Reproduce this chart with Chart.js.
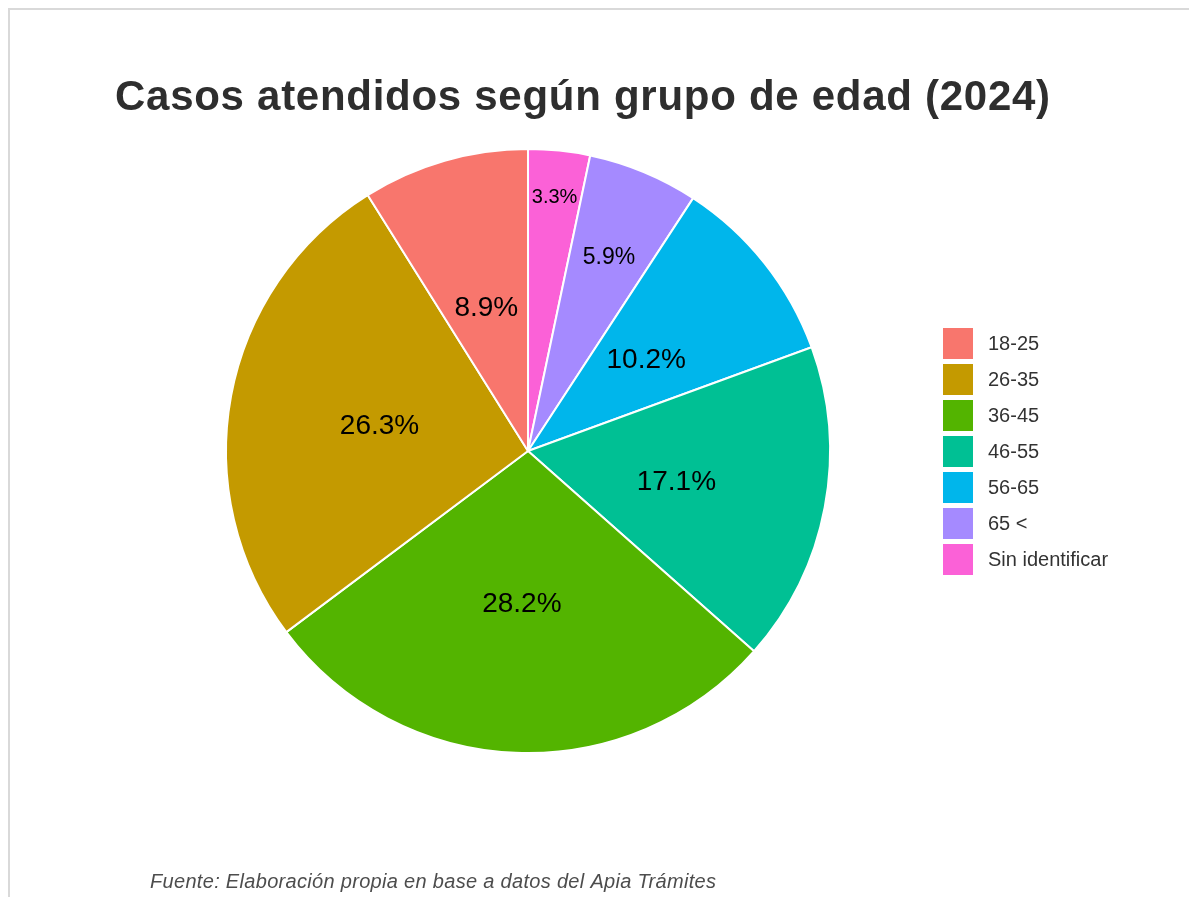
<!DOCTYPE html>
<html><head><meta charset="utf-8">
<script src="https://cdn.jsdelivr.net/npm/chart.js@4.4.1/dist/chart.umd.min.js"></script>
<style>
html,body{margin:0;padding:0;background:#fff;}
#wrap{position:relative;width:1189px;height:897px;overflow:hidden;background:#fff;}
#frame{position:absolute;left:8px;top:8px;width:1300px;height:1000px;border:2px solid #d9d9d9;box-sizing:border-box;}
canvas{position:absolute;left:0;top:0;}
</style></head>
<body><div id="wrap"><div id="frame"></div><canvas id="c" width="1189" height="897"></canvas></div>
<script>
const categories = ['18-25', '26-35', '36-45', '46-55', '56-65', '65 <', 'Sin identificar'];
const percentages = [8.9, 26.3, 28.2, 17.1, 10.2, 5.9, 3.3];
const colors = ['#F8766D', '#C49A00', '#53B400', '#00C094', '#00B6EB', '#A58AFF', '#FB61D7'];
const titleText = 'Casos atendidos según grupo de edad (2024)';
const captionText = 'Fuente: Elaboración propia en base a datos del Apia Trámites';
// label styling (radius fraction and font size per category)
const labelRadius = [0.5, 0.5, 0.5, 0.5, 0.5, 0.7, 0.85];
const labelSize = [28, 28, 28, 28, 28, 23, 20];

const FONT = '"Liberation Sans", Arial, Helvetica, sans-serif';
// ggplot draws counter-clockwise; Chart.js draws clockwise -> reverse order for the library
const order = categories.map((_, i) => categories.length - 1 - i);

function fitText(ctx, text, x, y, targetWidth) {
  ctx.letterSpacing = '0px';
  const w = ctx.measureText(text).width;
  const ls = (targetWidth - w) / (text.length - 1);
  ctx.letterSpacing = ls.toFixed(2) + 'px';
  ctx.textAlign = 'left';
  ctx.fillText(text, x, y);
  ctx.letterSpacing = '0px';
}

const textPlugin = {
  id: 'textPlugin',
  afterDatasetsDraw(chart) {
    const ctx = chart.ctx;
    const meta = chart.getDatasetMeta(0);
    ctx.save();
    meta.data.forEach((arc, j) => {
      const i = order[j];
      const p = arc.getProps(['x', 'y', 'startAngle', 'endAngle', 'outerRadius'], true);
      const mid = (p.startAngle + p.endAngle) / 2;
      const r = p.outerRadius * labelRadius[i];
      ctx.font = labelSize[i] + 'px ' + FONT;
      ctx.fillStyle = '#000';
      ctx.textAlign = 'center';
      ctx.textBaseline = 'middle';
      ctx.fillText(percentages[i].toFixed(1) + '%', p.x + Math.cos(mid) * r, p.y + Math.sin(mid) * r + labelSize[i] * 0.1);
    });
    // title
    ctx.font = 'bold 42px ' + FONT;
    ctx.fillStyle = '#2e2e2e';
    ctx.textBaseline = 'alphabetic';
    fitText(ctx, titleText, 115, 110, 935);
    // caption
    ctx.font = 'italic 20px ' + FONT;
    ctx.fillStyle = '#4d4d4d';
    fitText(ctx, captionText, 150, 888, 566);
    // legend
    categories.forEach((c, i) => {
      const y = 328 + i * 36;
      ctx.fillStyle = colors[i];
      ctx.fillRect(943, y, 30, 31);
      ctx.font = '20px ' + FONT;
      ctx.fillStyle = '#333';
      ctx.textAlign = 'left';
      ctx.textBaseline = 'middle';
      ctx.fillText(c, 988, y + 16);
    });
    ctx.restore();
  }
};

new Chart(document.getElementById('c'), {
  type: 'pie',
  data: {
    labels: order.map(i => categories[i]),
    datasets: [{
      data: order.map(i => percentages[i]),
      backgroundColor: order.map(i => colors[i]),
      borderColor: '#ffffff',
      borderWidth: 2,
      hoverOffset: 0
    }]
  },
  options: {
    responsive: false,
    animation: false,
    devicePixelRatio: 1,
    radius: 302,
    layout: { padding: { left: 200, right: 333, top: 100, bottom: 95 } },
    plugins: {
      legend: { display: false },
      tooltip: { enabled: false },
      title: { display: false }
    }
  },
  plugins: [textPlugin]
});
</script>
</body></html>
